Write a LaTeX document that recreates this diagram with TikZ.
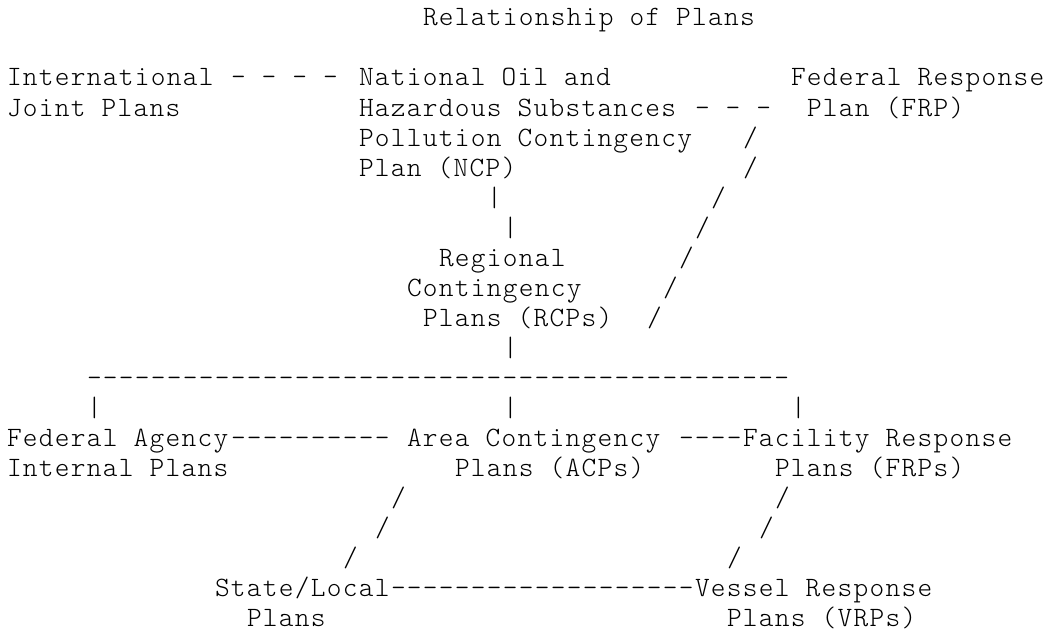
\documentclass[tikz,border=0pt]{standalone}
\usepackage{fontspec}
\setmonofont{Latin Modern Mono Light}[LetterSpace=4.6]
\usepackage{tikz}

\tikzset{
  plan/.style={font=\ttfamily\fontsize{28pt}{30pt}\selectfont,anchor=base west,inner sep=0pt,outer sep=0pt},
  glyph/.style={plan}
}
\newcommand{\dashrun}[1]{\foreach \k in {1,...,#1}{-}}

\begin{document}
\begin{tikzpicture}[x=16pt,y=-30pt]
\useasboundingbox ([xshift=-7pt,yshift=56pt]0,0) rectangle ([xshift=1039pt,yshift=-578pt]0,0);

\node[plan] (title) at (26,-1) {Relationship of Plans};

% top row of plans
\node[plan] (intl) at (0,1) {International};
\node[plan] (intl2) at (0,2) {Joint Plans};
\node[glyph] (intlncp) at (14,1) {- - - -};
\node[plan] (ncp) at (22,1) {National Oil and};
\node[plan] (ncp2) at (22,2) {Hazardous Substances};
\node[plan] (ncp3) at (22,3) {Pollution Contingency};
\node[plan] (ncp4) at (22,4) {Plan (NCP)};
\node[glyph] (ncpfrp) at (43,2) {- - -};
\node[plan] (frp) at (49,1) {Federal Response};
\node[plan] (frp2) at (50,2) {Plan (FRP)};

% links down to the RCPs
\foreach \c/\r in {46/3,46/4,44/5,43/6,42/7,41/8,40/9}
  \node[glyph] (frprcp\r) at (\c,\r) {/};
\node[glyph] (ncprcp5) at (30,5) {|};
\node[glyph] (ncprcp6) at (31,6) {|};

\node[plan] (rcp) at (27,7) {Regional};
\node[plan] (rcp2) at (25,8) {Contingency};
\node[plan] (rcp3) at (26,9) {Plans (RCPs)};
\node[glyph] (rcpbus) at (31,10) {|};

% branch line
\node[glyph] (bus) at (5,11) {\dashrun{44}};
\node[glyph] (busfed) at (5,12) {|};
\node[glyph] (busacp) at (31,12) {|};
\node[glyph] (busfac) at (49,12) {|};

\node[plan] (fed) at (0,13) {Federal Agency};
\node[plan] (fed2) at (0,14) {Internal Plans};
\node[glyph] (fedacp) at (14,13) {\dashrun{10}};
\node[plan] (acp) at (25,13) {Area Contingency};
\node[plan] (acp2) at (28,14) {Plans (ACPs)};
\node[glyph] (acpfac) at (42,13) {\dashrun{4}};
\node[plan] (fac) at (46,13) {Facility Response};
\node[plan] (fac2) at (48,14) {Plans (FRPs)};

% links down to state and vessel plans
\foreach \c/\r in {24/15,23/16,21/17}
  \node[glyph] (acpstate\r) at (\c,\r) {/};
\foreach \c/\r in {48/15,47/16,45/17}
  \node[glyph] (facvrp\r) at (\c,\r) {/};

\node[plan] (state) at (13,18) {State/Local};
\node[plan] (state2) at (15,19) {Plans};
\node[glyph] (statevrp) at (24,18) {\dashrun{19}};
\node[plan] (vrp) at (43,18) {Vessel Response};
\node[plan] (vrp2) at (45,19) {Plans (VRPs)};

\end{tikzpicture}
\end{document}
